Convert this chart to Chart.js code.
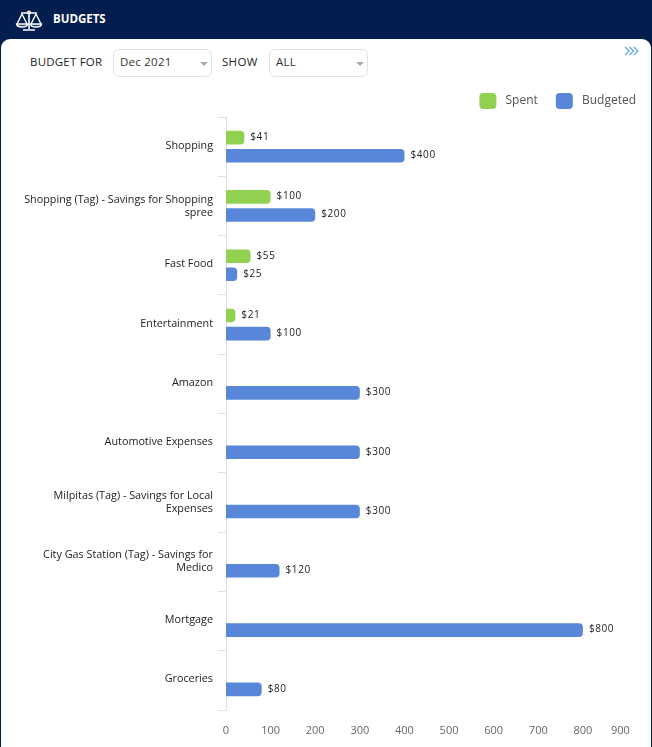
<!DOCTYPE html>
<html><head><meta charset="utf-8">
<script src="https://cdn.jsdelivr.net/npm/chart.js@4/dist/chart.umd.min.js"></script>
<style>
html,body{margin:0;padding:0;width:652px;height:747px;overflow:hidden;background:#021e4e;font-family:"Open Sans",sans-serif}
#card{position:absolute;left:1px;top:39px;width:650px;height:720px;background:#fff;border-radius:9px 9px 0 0}
#wrap{position:absolute;left:0;top:0;width:660px;height:747px}
.t{position:absolute;white-space:nowrap}
.sel{position:absolute;top:49px;height:26px;border:1px solid #e3e3e3;border-radius:6px;background:#fff;box-sizing:content-box}
.sel span{position:absolute;left:6px;top:4px;font-size:11.5px;color:#333;letter-spacing:.25px}
.sel i{position:absolute;right:3px;top:12px;width:0;height:0;border-left:4.5px solid transparent;border-right:4.5px solid transparent;border-top:4px solid #aaa}
</style></head><body>
<svg style="position:absolute;left:15px;top:10px" width="30" height="22" viewBox="0 0 30 22" fill="none" stroke="#fff" stroke-width="1.4">
<path d="M14 3V19M6 3H22M8 20H20" stroke-width="1.6"/><circle cx="14" cy="2.5" r="1.3"/>
<path d="M7 4L2 14M7 4L12 14M21 4L16 14M21 4L26 14"/><path d="M1.5 14H12.5C12.5 18 1.5 18 1.5 14ZM15.5 14H26.5C26.5 18 15.5 18 15.5 14Z" fill="#fff" fill-opacity=".2"/></svg>
<div class="t" style="left:53px;top:11px;color:#fff;font-weight:700;font-size:11.5px">BUDGETS</div>
<div id="card"></div>
<div class="t" style="left:30px;top:54px;font-size:11.5px;color:#222;letter-spacing:.2px;font-weight:500">BUDGET FOR</div>
<div class="sel" style="left:113px;width:97px"><span>Dec 2021</span><i></i></div>
<div class="t" style="left:222px;top:54px;font-size:11.5px;color:#222;letter-spacing:.3px;font-weight:500">SHOW</div>
<div class="sel" style="left:269px;width:97px"><span>ALL</span><i></i></div>
<svg style="position:absolute;left:624px;top:46px" width="15" height="10" viewBox="0 0 15 10" fill="none" stroke="#62ade8" stroke-width="1.4"><path d="M1 1L5 5L1 9M5.5 1L9.5 5L5.5 9M10 1L14 5L10 9"/></svg>
<div id="wrap"><canvas id="c" width="660" height="747" style="width:660px;height:747px;display:block"></canvas></div>
<script>
const categories = [
  "Shopping",
  ["Shopping (Tag) - Savings for Shopping", "spree"],
  "Fast Food",
  "Entertainment",
  "Amazon",
  "Automotive Expenses",
  ["Milpitas (Tag) - Savings for Local", "Expenses"],
  ["City Gas Station (Tag) - Savings for", "Medico"],
  "Mortgage",
  "Groceries"
];
const spent = [41, 100, 55, 21, null, null, null, null, null, null];
const budgeted = [400, 200, 25, 100, 300, 300, 300, 120, 800, 80];
const xTicks = [0, 100, 200, 300, 400, 500, 600, 700, 800, 900];
const spentColor = "#90d14f";
const budgetedColor = "#5886d9";
const font = '"Open Sans", sans-serif';

const valueLabels = {
  id: "valueLabels",
  beforeLayout(chart) {
    const lg = chart.legend;
    const fit = lg.fit;
    lg.fit = function () { fit.call(this); this.height = 42; };
    const y = chart.scales.y;
    const compute = y._computeLabelItems;
    y._computeLabelItems = function (area) {
      const items = compute.call(this, area);
      items.forEach(it => {
        if (!Array.isArray(it.label)) it.options.translation[1] -= 1;
      });
      return items;
    };
  },
  afterDatasetsDraw(chart) {
    const ctx = chart.ctx;
    ctx.save();
    ctx.font = "10px " + font;
    ctx.fillStyle = "#222";
    ctx.textAlign = "left";
    ctx.textBaseline = "middle";
    ctx.letterSpacing = "0.6px";
    chart.data.datasets.forEach((ds, i) => {
      chart.getDatasetMeta(i).data.forEach((el, j) => {
        if (ds.data[j] != null) ctx.fillText("$" + ds.data[j], el.x + 6, el.y - 0.5);
      });
    });
    ctx.restore();
  }
};

new Chart(document.getElementById("c"), {
  type: "bar",
  plugins: [valueLabels],
  data: {
    labels: categories,
    datasets: [
      { label: "Spent", data: spent, backgroundColor: spentColor },
      { label: "Budgeted", data: budgeted, backgroundColor: budgetedColor }
    ]
  },
  options: {
    indexAxis: "y",
    responsive: false,
    animation: false,
    devicePixelRatio: 1,
    layout: { padding: { top: 75, right: 6, left: 0, bottom: 0 } },
    datasets: { bar: {
      categoryPercentage: 0.61, barPercentage: 0.75,
      borderRadius: { topRight: 4, bottomRight: 4, topLeft: 0, bottomLeft: 0 },
      borderSkipped: false
    } },
    plugins: {
      tooltip: { enabled: false },
      legend: {
        position: "top", align: "end",
        labels: {
          boxWidth: 17, boxHeight: 16, useBorderRadius: true, borderRadius: 4,
          padding: 18, color: "#555",
          font: { family: font, size: 12 },
          generateLabels(chart) {
            return Chart.defaults.plugins.legend.labels.generateLabels(chart).map(l => ({ ...l, text: " " + l.text, lineWidth: 0 }));
          }
        }
      }
    },
    scales: {
      x: {
        type: "linear", position: "bottom", min: 0, max: 900,
        grid: { display: false }, border: { display: false },
        afterBuildTicks(s) { s.ticks = xTicks.map(v => ({ value: v })); },
        afterFit(s) { s.height = 37; },
        ticks: {
          color: "#666", padding: 6, maxRotation: 0, autoSkip: false,
          font: { family: font, size: 11 },
          callback: v => v === 900 ? v + "     " : String(v)
        }
      },
      y: {
        type: "category", position: "left",
        afterFit(s) { s.width = 226; },
        grid: { drawOnChartArea: false, color: "#d8e1f2", tickLength: 8 },
        border: { color: "#d8e1f2" },
        ticks: { color: "#222", padding: 5, autoSkip: false, font: { family: font, size: 10.8 } }
      },
      yEnd: {
        type: "category", position: "right", display: true,
        grid: { display: false }, border: { display: false },
        ticks: { display: false },
        afterFit(s) { s.width = 26.5; }
      }
    }
  }
});
</script>
</body></html>
